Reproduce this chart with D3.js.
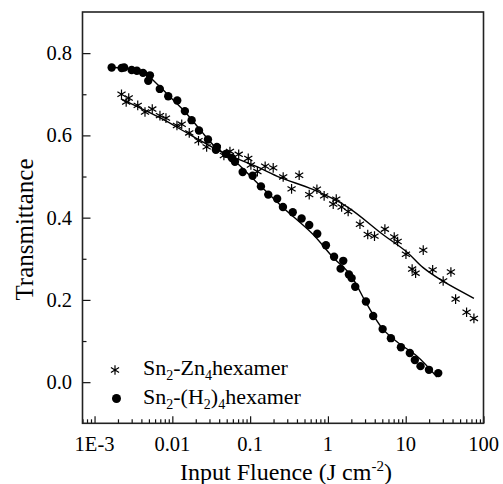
<!DOCTYPE html>
<html><head><meta charset="utf-8">
<script src="https://cdn.jsdelivr.net/npm/d3@7"></script>
</head><body style="margin:0">
<svg id="c" width="503" height="484" style="font-family:'Liberation Serif'"></svg>
<script>
// Sn2-Zn4hexamer (stars): fluence, transmittance
const znX = [0.00222,0.00255,0.00275,0.00359,0.00445,0.00552,0.00693,0.00828,0.01146,0.0132,0.0165,0.0217,0.0276,0.0371,0.046,0.055,0.0713,0.0946,0.1023,0.124,0.156,0.198,0.266,0.341,0.427,0.575,0.722,0.894,1.17,1.28,1.50,1.82,2.58,3.25,3.97,5.4,7.12,7.87,10.07,12.1,13.4,16.8,22.2,30.3,38.1,43.8,60.6,75.3];
const znY = [0.700,0.681,0.691,0.673,0.657,0.664,0.648,0.642,0.624,0.627,0.606,0.587,0.572,0.570,0.551,0.561,0.554,0.544,0.528,0.512,0.525,0.521,0.499,0.470,0.503,0.456,0.469,0.453,0.433,0.445,0.426,0.415,0.384,0.359,0.355,0.372,0.353,0.342,0.311,0.275,0.265,0.321,0.273,0.246,0.268,0.202,0.170,0.155];
// Sn2-(H2)4hexamer (circles)
const h2X = [0.00166,0.00223,0.0024,0.0030,0.0035,0.0042,0.00515,0.0049,0.0069,0.00885,0.01156,0.0145,0.0177,0.022,0.0287,0.0374,0.0363,0.0489,0.0583,0.0638,0.0802,0.1077,0.1377,0.171,0.2225,0.264,0.353,0.459,0.575,0.729,0.943,1.20,1.574,1.456,1.862,2.017,2.244,3.08,3.82,5.05,6.45,8.68,11.3,13.1,15.5,19.9,26.2];
const h2Y = [0.765,0.764,0.765,0.759,0.757,0.752,0.746,0.733,0.713,0.695,0.685,0.659,0.637,0.612,0.590,0.572,0.565,0.555,0.545,0.536,0.511,0.502,0.476,0.456,0.446,0.426,0.413,0.398,0.382,0.361,0.333,0.305,0.295,0.276,0.262,0.253,0.232,0.196,0.161,0.129,0.107,0.085,0.071,0.054,0.039,0.030,0.022];
// fitted curves
const znFitX = [0.00218,0.00693,0.0168,0.0447,0.122,0.241,0.641,1.75,5.09,10.4,16.6,30.1,75.3];
const znFitY = [0.689,0.643,0.602,0.558,0.524,0.498,0.4685,0.427,0.359,0.316,0.279,0.2455,0.204];
const h2FitX = [0.00167,0.00285,0.00445,0.00598,0.0093,0.0145,0.0227,0.0353,0.0602,0.122,0.264,0.641,1.16,1.92,3.17,5.09,8.42,13.9,25.2];
const h2FitY = [0.7655,0.7606,0.7497,0.730,0.694,0.6576,0.614,0.5727,0.5412,0.4855,0.4248,0.3594,0.3036,0.2624,0.1897,0.129,0.0927,0.0636,0.0127];
const xTickVals = [0.001,0.01,0.1,1,10,100];
const xTickLabels = ["1E-3","0.01","0.1","1","10","100"];
const yTickVals = [0.0,0.2,0.4,0.6,0.8];
const yTickLabels = ["0.0","0.2","0.4","0.6","0.8"];

const svg = d3.select("#c");
const L=82.5,R=483.5,T=12,B=423.3;
const x = d3.scaleLog().domain([0.0007,100]).range([L,R]);
const y = d3.scaleLinear().domain([-0.1,0.9]).range([B,T]);

function txt(xp,yp,fs){return svg.append("text").attr("x",xp).attr("y",yp).attr("font-size",fs)
  .style("font-family",'"Liberation Serif"').attr("fill","#000");}

// minor ticks
const xMinor=[];
for(let e=-4;e<=1;e++) for(let m=2;m<=9;m++){const v=m*Math.pow(10,e); if(v>=0.0007&&v<=100) xMinor.push(v);}
const yMinor=[0.1,0.3,0.5,0.7];

const gx = svg.append("g").attr("transform",`translate(0,${B})`);
gx.call(d3.axisBottom(x).tickValues(xMinor).tickSize(-4).tickFormat(""));
gx.select(".domain").remove();
const gx2 = svg.append("g").attr("transform",`translate(0,${B})`);
gx2.call(d3.axisBottom(x).tickValues(xTickVals).tickSize(-7).tickFormat(""));
gx2.select(".domain").remove();
xTickVals.forEach((v,i)=>txt(x(v),451,20.5).attr("text-anchor","middle").text(xTickLabels[i]));

const gy = svg.append("g").attr("transform",`translate(${L},0)`);
gy.call(d3.axisLeft(y).tickValues(yMinor).tickSize(-4).tickFormat(""));
gy.select(".domain").remove();
const gy2 = svg.append("g").attr("transform",`translate(${L},0)`);
gy2.call(d3.axisLeft(y).tickValues(yTickVals).tickSize(-8).tickFormat(""));
gy2.select(".domain").remove();
yTickVals.forEach((v,i)=>txt(72,y(v),20.5).attr("text-anchor","end").attr("dominant-baseline","central").text(yTickLabels[i]));
svg.selectAll(".tick line").attr("stroke","#111").attr("stroke-width",1.2);

// frame
svg.append("rect").attr("x",L).attr("y",T).attr("width",R-L).attr("height",B-T)
  .attr("fill","none").attr("stroke","#222").attr("stroke-width",1.6);

// fit lines
const line = d3.line().x(d=>x(d[0])).y(d=>y(d[1])).curve(d3.curveCatmullRom);
svg.append("path").datum(znFitX.map((v,i)=>[v,znFitY[i]])).attr("d",line)
  .attr("fill","none").attr("stroke","#000").attr("stroke-width",1.4);
svg.append("path").datum(h2FitX.map((v,i)=>[v,h2FitY[i]])).attr("d",line)
  .attr("fill","none").attr("stroke","#000").attr("stroke-width",1.4);

// star marker
function star(g,cx,cy,s){
  const a=s, b=s*0.85;
  g.append("path").attr("d",`M${cx},${cy-a}L${cx},${cy+a}M${cx-b},${cy-b*0.6}L${cx+b},${cy+b*0.6}M${cx-b},${cy+b*0.6}L${cx+b},${cy-b*0.6}`)
   .attr("stroke","#000").attr("stroke-width",1.2).attr("fill","none");
}
const sg = svg.append("g");
znX.forEach((v,i)=>star(sg,x(v),y(znY[i]),4.8));
svg.append("g").selectAll("circle").data(h2X).join("circle")
  .attr("cx",d=>x(d)).attr("cy",(d,i)=>y(h2Y[i])).attr("r",4.2).attr("fill","#000");

// legend
star(svg,115,370,4.8);
svg.append("circle").attr("cx",116.5).attr("cy",398.5).attr("r",4.5).attr("fill","#000");
function sub(t,s){t.append("tspan").text(s).attr("font-size",14).attr("dy",5);}
function norm(t,s){t.append("tspan").text(s).attr("dy",-5);}
let t1 = txt(143,375,22);
t1.append("tspan").text("Sn"); sub(t1,"2"); norm(t1,"-Zn"); sub(t1,"4"); norm(t1,"hexamer");
let t2 = txt(143,404,22);
t2.append("tspan").text("Sn"); sub(t2,"2"); norm(t2,"-(H"); sub(t2,"2"); norm(t2,")"); sub(t2,"4"); norm(t2,"hexamer");

// axis titles
let xt = txt(286,480,24).attr("text-anchor","middle");
xt.append("tspan").text("Input Fluence (J cm");
xt.append("tspan").text("-2").attr("font-size",15).attr("dy",-9);
xt.append("tspan").text(")").attr("dy",9);
txt(0,0,25).attr("transform",`translate(33,229.5) rotate(-90)`).attr("text-anchor","middle").text("Transmittance");
</script></body></html>
